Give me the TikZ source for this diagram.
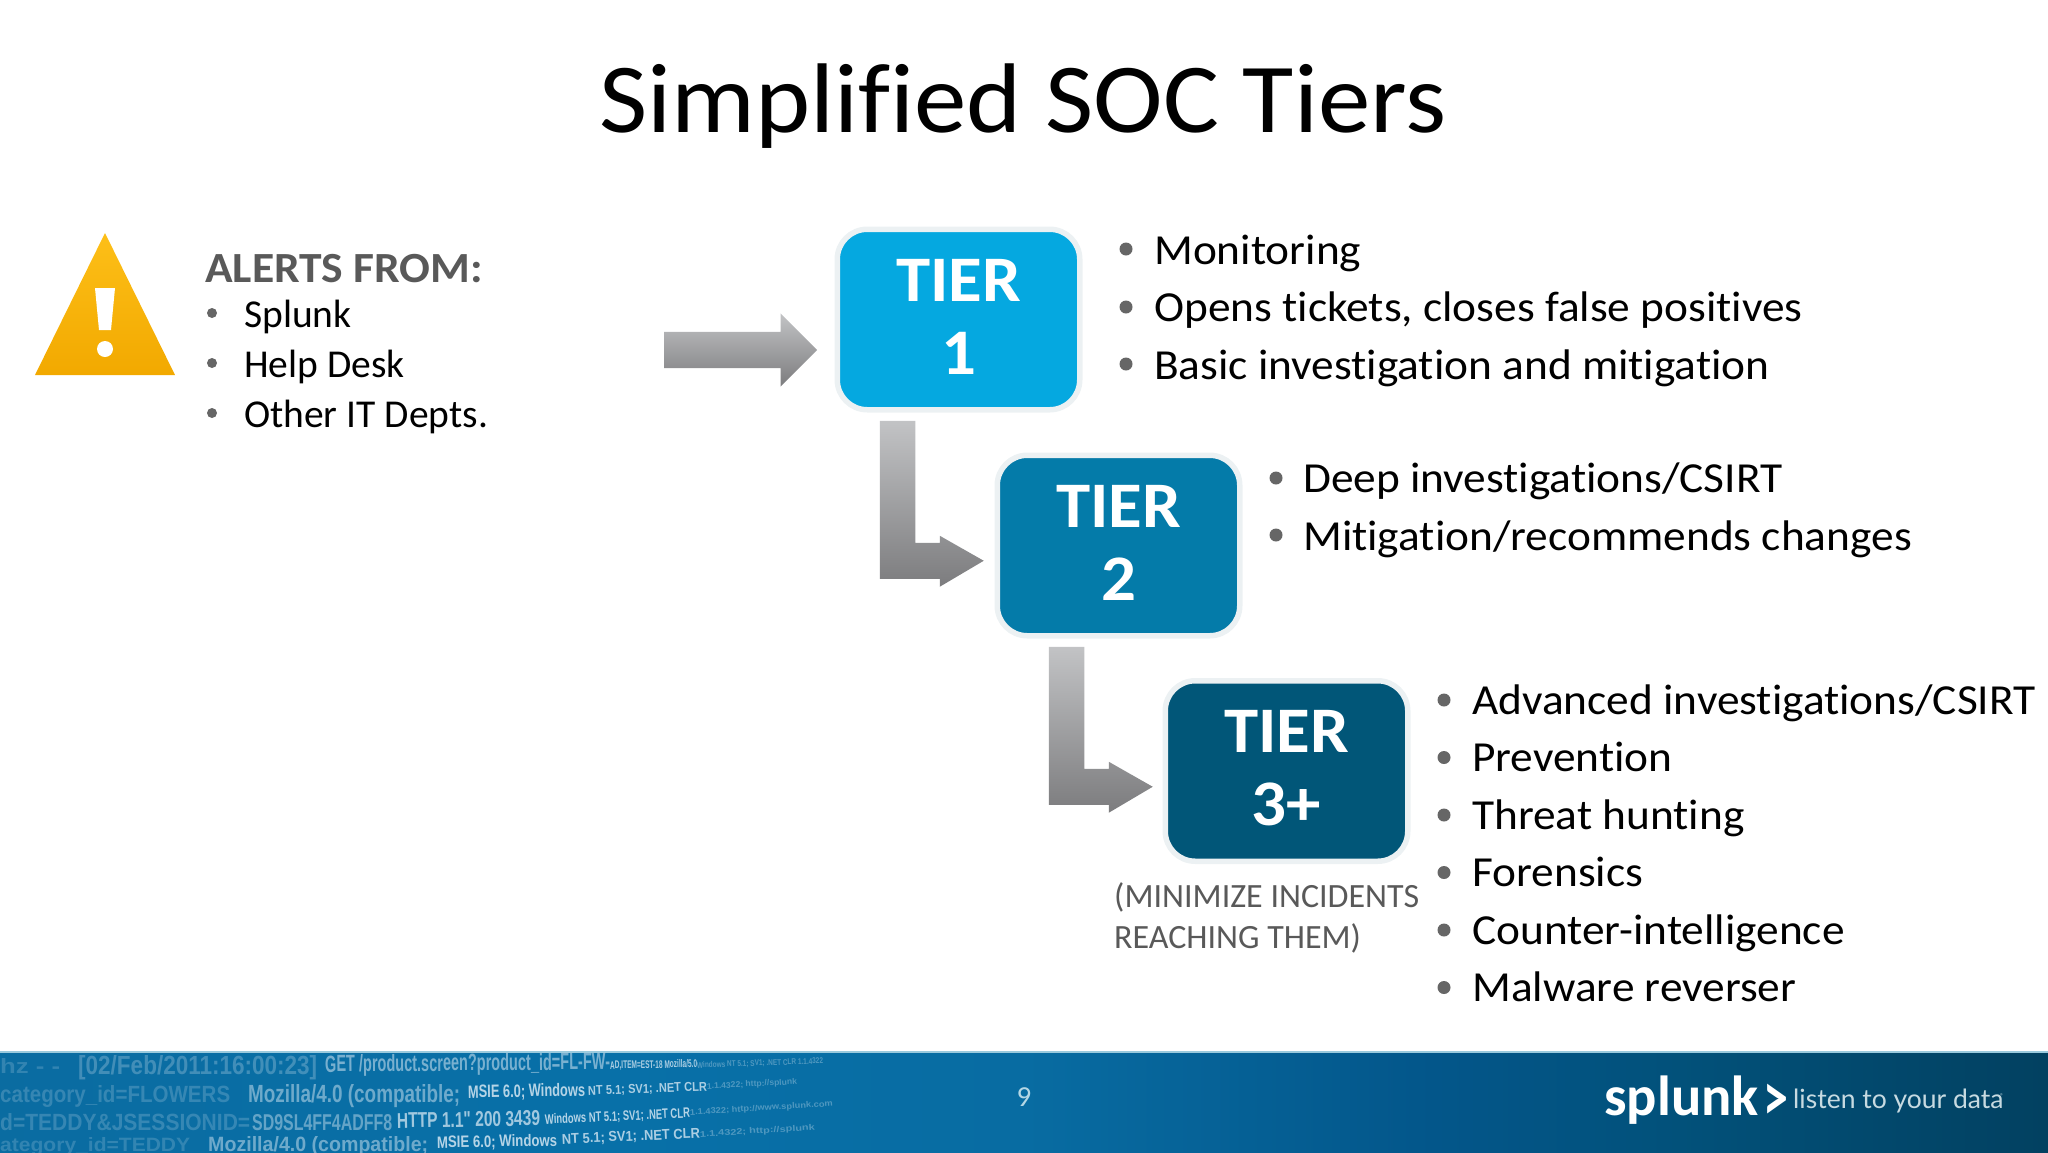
\documentclass[tikz,border=0pt]{standalone}
\usepackage{fontspec}
\setmainfont{Carlito}[Ligatures=CommonOff]
\newfontfamily\itemfont{Carlito}[Ligatures=CommonOff,FakeStretch=1.06]
\newfontfamily\tagfont{Lato}
\newfontfamily\logfont{Liberation Sans}
\usetikzlibrary{calc,shapes.arrows}

\definecolor{tieronecol}{HTML}{05A8E0}
\definecolor{tiertwocol}{HTML}{047BA9}
\definecolor{tierthreecol}{HTML}{015678}
\definecolor{rimcol}{HTML}{ECF1F3}
\definecolor{notecol}{HTML}{595959}
\definecolor{dotcol}{HTML}{666666}
\definecolor{barlight}{HTML}{C2C3C5}
\definecolor{bardark}{HTML}{7C7C7E}
\definecolor{logcol}{HTML}{D4E6F2}
\definecolor{bandone}{HTML}{0E6596}
\definecolor{bandtwo}{HTML}{0870A8}
\definecolor{bandthree}{HTML}{086CA2}
\definecolor{bandfour}{HTML}{03568A}
\definecolor{bandfive}{HTML}{02517A}
\definecolor{bandsix}{HTML}{023F5E}
\definecolor{signtop}{HTML}{FDBF18}
\definecolor{signbottom}{HTML}{F2A900}

\pgfdeclarehorizontalshading{footband}{100bp}{
  color(0bp)=(bandone);
  color(40bp)=(bandtwo);
  color(50bp)=(bandthree);
  color(60bp)=(bandfour);
  color(66bp)=(bandfive);
  color(76bp)=(bandsix);
  color(100bp)=(bandsix)}

\newcommand{\fitlog}[3]{\resizebox{#1pt}{#2pt}{\logfont\bfseries #3}}

\tikzset{
  tierbox/.style={draw=rimcol, line width=5.5pt, rounded corners=30pt, minimum width=242.5pt,
    minimum height=180.5pt, inner sep=0pt, outer sep=0pt, align=center, text=white, text depth=6pt,
    font=\itemfont\fontsize{65}{73}\selectfont\bfseries},
  itemtext/.style={anchor=base west, inner sep=0pt, font=\itemfont\fontsize{42.8}{50}\selectfont},
  alerttext/.style={anchor=base west, inner sep=0pt, font=\fontsize{39.5}{46}\selectfont},
  notetext/.style={anchor=base west, inner sep=0pt, text=notecol, font=\fontsize{34}{40}\selectfont},
  itemdot/.style={circle, fill=dotcol, inner sep=0pt, minimum size=13pt},
  alertdot/.style={circle, fill=dotcol, inner sep=0pt, minimum size=10pt},
  graybar/.style={top color=barlight, bottom color=bardark, draw=none},
  logline/.style={anchor=base west, inner sep=0pt, text=logcol},
  bentarrow/.pic={
    \shade[graybar] (0,0) -- ++(35.5,0) -- ++(0,122) -- ++(24.5,0) -- ++(0,-7) -- ++(44,25)
      -- ++(-44,26) -- ++(0,-8) -- ++(-60,0) -- cycle;
  }
}

\begin{document}
\begin{tikzpicture}[x=1pt,y=-1pt]
\useasboundingbox (0,0) rectangle (2048,1152);

% title
\node[inner sep=0pt, anchor=base, font=\itemfont\fontsize{99}{100}\selectfont] (title) at (1023,132) {Simplified SOC Tiers};

% warning sign
\shade[top color=signtop, bottom color=signbottom] (105,233) -- (175,375) -- (35,375) -- cycle;
\fill[white] (95,288) -- (115,288) -- (111,330) -- (99,330) -- cycle;
\fill[white] (105,349) circle (8);

% alert list
\node[anchor=base west, inner sep=0pt, text=notecol, font=\itemfont\fontsize{43}{46}\selectfont\bfseries] (alerthead) at (205,282) {ALERTS FROM:};
\node[alertdot] (adot1) at (212,313) {};
\node[alertdot] (adot2) at (212,363) {};
\node[alertdot] (adot3) at (212,413) {};
\node[alerttext] (alert1) at (244,327) {Splunk};
\node[alerttext] (alert2) at (244,377) {Help Desk};
\node[alerttext] (alert3) at (244,427) {Other IT Depts.};

% tiers
\node[tierbox, fill=tieronecol] (tierone) at (958.5,319.5) {TIER\\1};
\node[tierbox, fill=tiertwocol] (tiertwo) at (1118.5,545.5) {TIER\\2};
\node[tierbox, fill=tierthreecol] (tierthree) at (1286.5,771) {TIER\\3+};

% arrows
\node[single arrow, single arrow head extend=18.5pt, single arrow tip angle=90, single arrow head indent=0pt,
  inner xsep=0pt, inner ysep=18pt, minimum height=153pt, minimum width=73pt, graybar, anchor=tip] (alertarrow) at (817.5,350) {};
\coordinate (bendone) at ($(tierone.south west)+(42.5,11)$);
\coordinate (bendtwo) at ($(tiertwo.south west)+(51.5,11)$);
\pic (arrowtwo) at (bendone) {bentarrow};
\pic (arrowthree) at (bendtwo) {bentarrow};

% tier 1 list
\node[itemdot] (odot1) at (1126,249) {};
\node[itemdot] (odot2) at (1126,307) {};
\node[itemdot] (odot3) at (1126,364) {};
\node[itemtext] (one1) at (1154,264) {Monitoring};
\node[itemtext] (one2) at (1154,321) {Opens tickets, closes false positives};
\node[itemtext] (one3) at (1154,379) {Basic investigation and mitigation};

% tier 2 list
\node[itemdot] (tdot1) at (1276,478) {};
\node[itemdot] (tdot2) at (1276,535) {};
\node[itemtext] (two1) at (1303,492) {Deep investigations/CSIRT};
\node[itemtext] (two2) at (1303,550) {Mitigation/recommends changes};

% tier 3 list
\node[itemdot] (hdot1) at (1444,700) {};
\node[itemdot] (hdot2) at (1444,757.5) {};
\node[itemdot] (hdot3) at (1444,815) {};
\node[itemdot] (hdot4) at (1444,872.5) {};
\node[itemdot] (hdot5) at (1444,930) {};
\node[itemdot] (hdot6) at (1444,987.5) {};
\node[itemtext] (three1) at (1472,714) {Advanced investigations/CSIRT};
\node[itemtext] (three2) at (1472,771.5) {Prevention};
\node[itemtext] (three3) at (1472,829) {Threat hunting};
\node[itemtext] (three4) at (1472,886.5) {Forensics};
\node[itemtext] (three5) at (1472,944) {Counter-intelligence};
\node[itemtext] (three6) at (1472,1001.5) {Malware reverser};

% note
\node[notetext] (note1) at (1114,907) {(MINIMIZE INCIDENTS};
\node[notetext] (note2) at (1114,948) {REACHING THEM)};

% footer band
\shade[shading=footband] (0,1052) rectangle (2048,1152);
\fill[white!60!tiertwocol] (0,1051) rectangle (2048,1053);

% log lines
\node[logline, opacity=.2] (log1) at (0,1073) {\fitlog{60}{15}{hz - -}};
\node[logline, opacity=.28] (log2) at (78,1074) {\fitlog{239}{19}{[02/Feb/2011:16:00:23]}};
\node[logline, opacity=.55, rotate=.5] (log3) at (325,1072) {\fitlog{285}{17}{GET /product.screen?product\_id=FL-FW-}};
\node[logline, opacity=.8, rotate=1] (log4) at (610,1069) {\fitlog{87}{8}{AD,ITEM=EST-18 Mozilla/5.0}};
\node[logline, opacity=.35, rotate=2] (log5) at (697,1068) {\fitlog{126}{6}{Windows NT 5.1; SV1; .NET CLR 1.1.4322}};
\node[logline, opacity=.22] (log6) at (0,1102) {\fitlog{230}{17}{category\_id=FLOWERS}};
\node[logline, opacity=.5] (log7) at (248,1102) {\fitlog{212}{18}{Mozilla/4.0 (compatible;}};
\node[logline, opacity=.85, rotate=1] (log8) at (468,1098) {\fitlog{117}{13}{MSIE 6.0; Windows}};
\node[logline, opacity=.8, rotate=2] (log9) at (588,1095) {\fitlog{119}{9}{NT 5.1; SV1; .NET CLR}};
\node[logline, opacity=.35, rotate=3] (log10) at (707,1089) {\fitlog{90}{6}{1.1.4322; http://splunk}};
\node[logline, opacity=.22] (log11) at (0,1130) {\fitlog{250}{17}{d=TEDDY\&JSESSIONID=}};
\node[logline, opacity=.45] (log12) at (252,1130) {\fitlog{140}{16}{SD9SL4FF4ADFF8}};
\node[logline, opacity=.75, rotate=1] (log13) at (397,1128) {\fitlog{143}{15}{HTTP 1.1" 200 3439}};
\node[logline, opacity=.85, rotate=2.5] (log14) at (545,1124) {\fitlog{145}{10}{Windows NT 5.1; SV1; .NET CLR}};
\node[logline, opacity=.35, rotate=3.5] (log15) at (690,1115) {\fitlog{143}{6}{1.1.4322; http://www.splunk.com}};
\node[logline, opacity=.2] (log16) at (0,1151) {\fitlog{190}{14}{ategory\_id=TEDDY}};
\node[logline, opacity=.5] (log17) at (208,1151) {\fitlog{220}{15}{Mozilla/4.0 (compatible;}};
\node[logline, opacity=.85, rotate=1] (log18) at (437,1148) {\fitlog{120}{12}{MSIE 6.0; Windows}};
\node[logline, opacity=.8, rotate=2.5] (log19) at (562,1144) {\fitlog{138}{10}{NT 5.1; SV1; .NET CLR}};
\node[logline, opacity=.35, rotate=3.5] (log20) at (700,1137) {\fitlog{115}{6}{1.1.4322; http://splunk}};

\node[inner sep=0pt, text=white!70!tiertwocol, font=\fontsize{29}{32}\selectfont] (pagenum) at (1024,1097) {9};

% logo
\node[anchor=base west, inner sep=0pt, text=white, font=\fontsize{56.5}{64}\selectfont\bfseries] (logoword) at (1604,1115) {splunk};
\node[anchor=base west, inner sep=0pt, text=white, yscale=1.35, font=\fontsize{50}{50}\selectfont\bfseries] (logomark) at (1763,1120) {>};
\node[anchor=base west, inner sep=0pt, text=white!78!tierthreecol, font=\tagfont\fontsize{26.5}{30}\selectfont] (logotag) at (1793,1108) {listen to your data};
\node[anchor=base west, inner sep=0pt, text=white!70!tierthreecol, font=\fontsize{7}{8}\selectfont] (logoreg) at (2000,1098) {®};
\end{tikzpicture}
\end{document}
